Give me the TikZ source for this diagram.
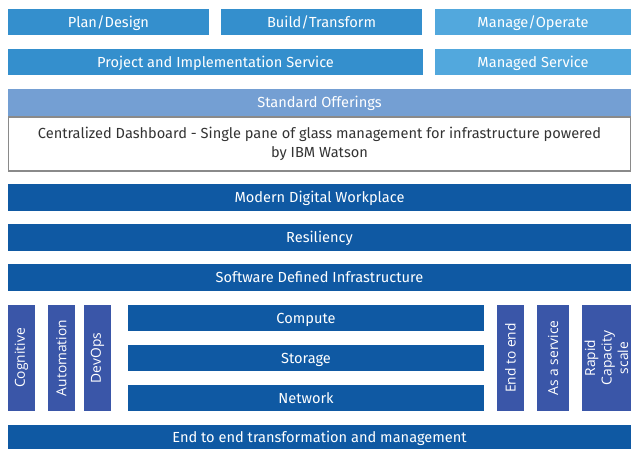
\documentclass[tikz,border=0pt]{standalone}
\usepackage{fontspec}
\setmainfont{Fira Sans}
\newfontfamily\sidefont{Open Sans}
\definecolor{planblue}{HTML}{348FCD}
\definecolor{manageblue}{HTML}{52A8DD}
\definecolor{stdblue}{HTML}{749FD3}
\definecolor{coreblue}{HTML}{0F59A3}
\definecolor{sideblue}{HTML}{3A56A8}
\definecolor{panegrey}{HTML}{8A8A8A}
\definecolor{textgrey}{HTML}{333333}
\begin{document}
\begin{tikzpicture}[x=1pt, y=-1pt,
    layer/.style={fill=#1, text=white, inner sep=0pt, outer sep=0pt,
      text height=10.5pt, text depth=0pt,
      font=\fontsize{14.6}{17}\selectfont},
    pillar/.style={fill=sideblue, text=white, inner sep=0pt, outer sep=0pt,
      rotate=90, minimum width=106pt, align=center,
      font=\sidefont\fontsize{13.8}{16.5}\selectfont}]
    \useasboundingbox (0,0) rectangle (631,449);

    % Phases
    \node[layer=planblue, minimum width=201pt, minimum height=26pt] (plan) at (108.5,22) {Plan/Design};
    \node[layer=planblue, minimum width=201pt, minimum height=26pt] (build) at (321.5,22) {Build/Transform};
    \node[layer=manageblue, minimum width=196pt, minimum height=26pt] (manage) at (533,22) {Manage/Operate};

    % Services
    \node[layer=planblue, minimum width=415pt, minimum height=26pt] (project) at (215.5,62) {Project and Implementation Service};
    \node[layer=manageblue, minimum width=196pt, minimum height=26pt] (managed) at (533,62) {Managed Service};

    % Standard offerings and dashboard
    \node[layer=stdblue, minimum width=623pt, minimum height=27pt] (standard) at (319.5,102.5) {Standard Offerings};
    \node[draw=panegrey, line width=1.5pt, fill=white, text=textgrey, inner sep=0pt,
      minimum width=622pt, minimum height=54pt, align=center,
      font=\fontsize{14.6}{19.5}\selectfont] (dashboard) at (319.5,144)
      {Centralized Dashboard - Single pane of glass management for infrastructure powered\\by IBM Watson};

    % Full-width layers
    \node[layer=coreblue, minimum width=623pt, minimum height=27pt] (workplace) at (319.5,197.5) {Modern Digital Workplace};
    \node[layer=coreblue, minimum width=623pt, minimum height=27pt] (resiliency) at (319.5,237.5) {Resiliency};
    \node[layer=coreblue, minimum width=623pt, minimum height=27pt] (sdi) at (319.5,277.5) {Software Defined Infrastructure};

    % Left pillars
    \node[pillar, minimum height=27pt] (cognitive) at (21.5,358) {Cognitive};
    \node[pillar, minimum height=27pt] (automation) at (61.5,358) {Automation};
    \node[pillar, minimum height=27pt] (devops) at (97.5,358) {DevOps};

    % Core stack
    \node[layer=coreblue, minimum width=356pt, minimum height=26pt] (compute) at (306,318) {Compute};
    \node[layer=coreblue, minimum width=356pt, minimum height=26pt] (storage) at (306,358) {Storage};
    \node[layer=coreblue, minimum width=356pt, minimum height=26pt] (network) at (306,398) {Network};

    % Right pillars
    \node[pillar, minimum height=27pt] (endtoend) at (510.5,358) {End to end};
    \node[pillar, minimum height=32pt] (service) at (553,358) {As a service};
    \node[pillar, minimum height=49pt] (rapid) at (606.5,358) {Rapid\\Capacity\\scale};

    % Bottom bar
    \node[layer=coreblue, minimum width=623pt, minimum height=24pt] (transform) at (319.5,437) {End to end transformation and management};
\end{tikzpicture}
\end{document}
